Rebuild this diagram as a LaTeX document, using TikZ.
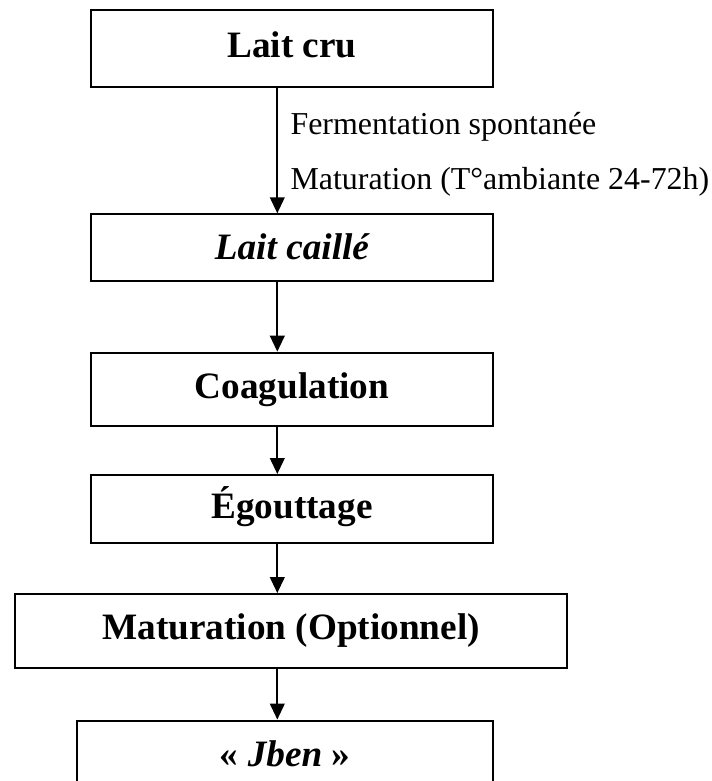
\documentclass[tikz,border=0pt]{standalone}
\usepackage{fontspec}
\setmainfont{Liberation Serif}
\usetikzlibrary{arrows.meta}

\begin{document}
\begin{tikzpicture}[x=0.376pt,y=0.376pt,yscale=-1,xscale=1,
  etape/.style={draw, line width=0.75pt, inner sep=0pt, minimum width=151.4pt,
    font=\fontsize{14}{16.8}\selectfont\bfseries, text height=8.8pt, text depth=2pt},
  fleche/.style={line width=0.75pt, -{Triangle[length=6pt,width=5.5pt]}},
  note/.style={anchor=base west, inner sep=0pt, font=\fontsize{12}{14.4}\selectfont}]
%set diagram size: 711 x 781
\useasboundingbox (0,0) rectangle (711,781);
\coordinate (axe) at (277.3,0);

%Shape: Rectangle [id:laitcru]
\node [etape, minimum height=28.8pt] (laitcru) at (292,48.4) {Lait cru};
%Shape: Rectangle [id:caille]
\node [etape, minimum height=24.9pt, text height=11pt] (caille) at (291.9,247.4) {\itshape Lait caillé};
%Shape: Rectangle [id:coag]
\node [etape, minimum height=27.4pt] (coag) at (291.9,389.1) {Coagulation};
%Shape: Rectangle [id:egout]
\node [etape, minimum height=25.7pt] (egout) at (291.9,509.2) {Égouttage};
%Shape: Rectangle [id:matur]
\node [etape, minimum width=207.8pt, minimum height=27.7pt] (matur) at (291,630.9) {Maturation (Optionnel)};
%Shape: Rectangle [id:jben]
\node [etape, minimum width=156.4pt, minimum height=27.4pt] (jben) at (285,757) {« \textit{Jben} »};

%Straight Lines
\draw [fleche] (laitcru.south -| axe) -- (caille.north -| axe);
\draw [fleche] (caille.south -| axe) -- (coag.north -| axe);
\draw [fleche] (coag.south -| axe) -- (egout.north -| axe);
\draw [fleche] (egout.south -| axe) -- (matur.north -| axe);
\draw [fleche] (matur.south -| axe) -- (jben.north -| axe);

% Text Node
\node [note] (ferm) at (290,135) {Fermentation spontanée};
% Text Node
\node [note] (temp) at (290,190) {Maturation (T°ambiante 24-72h)};

\end{tikzpicture}
\end{document}
